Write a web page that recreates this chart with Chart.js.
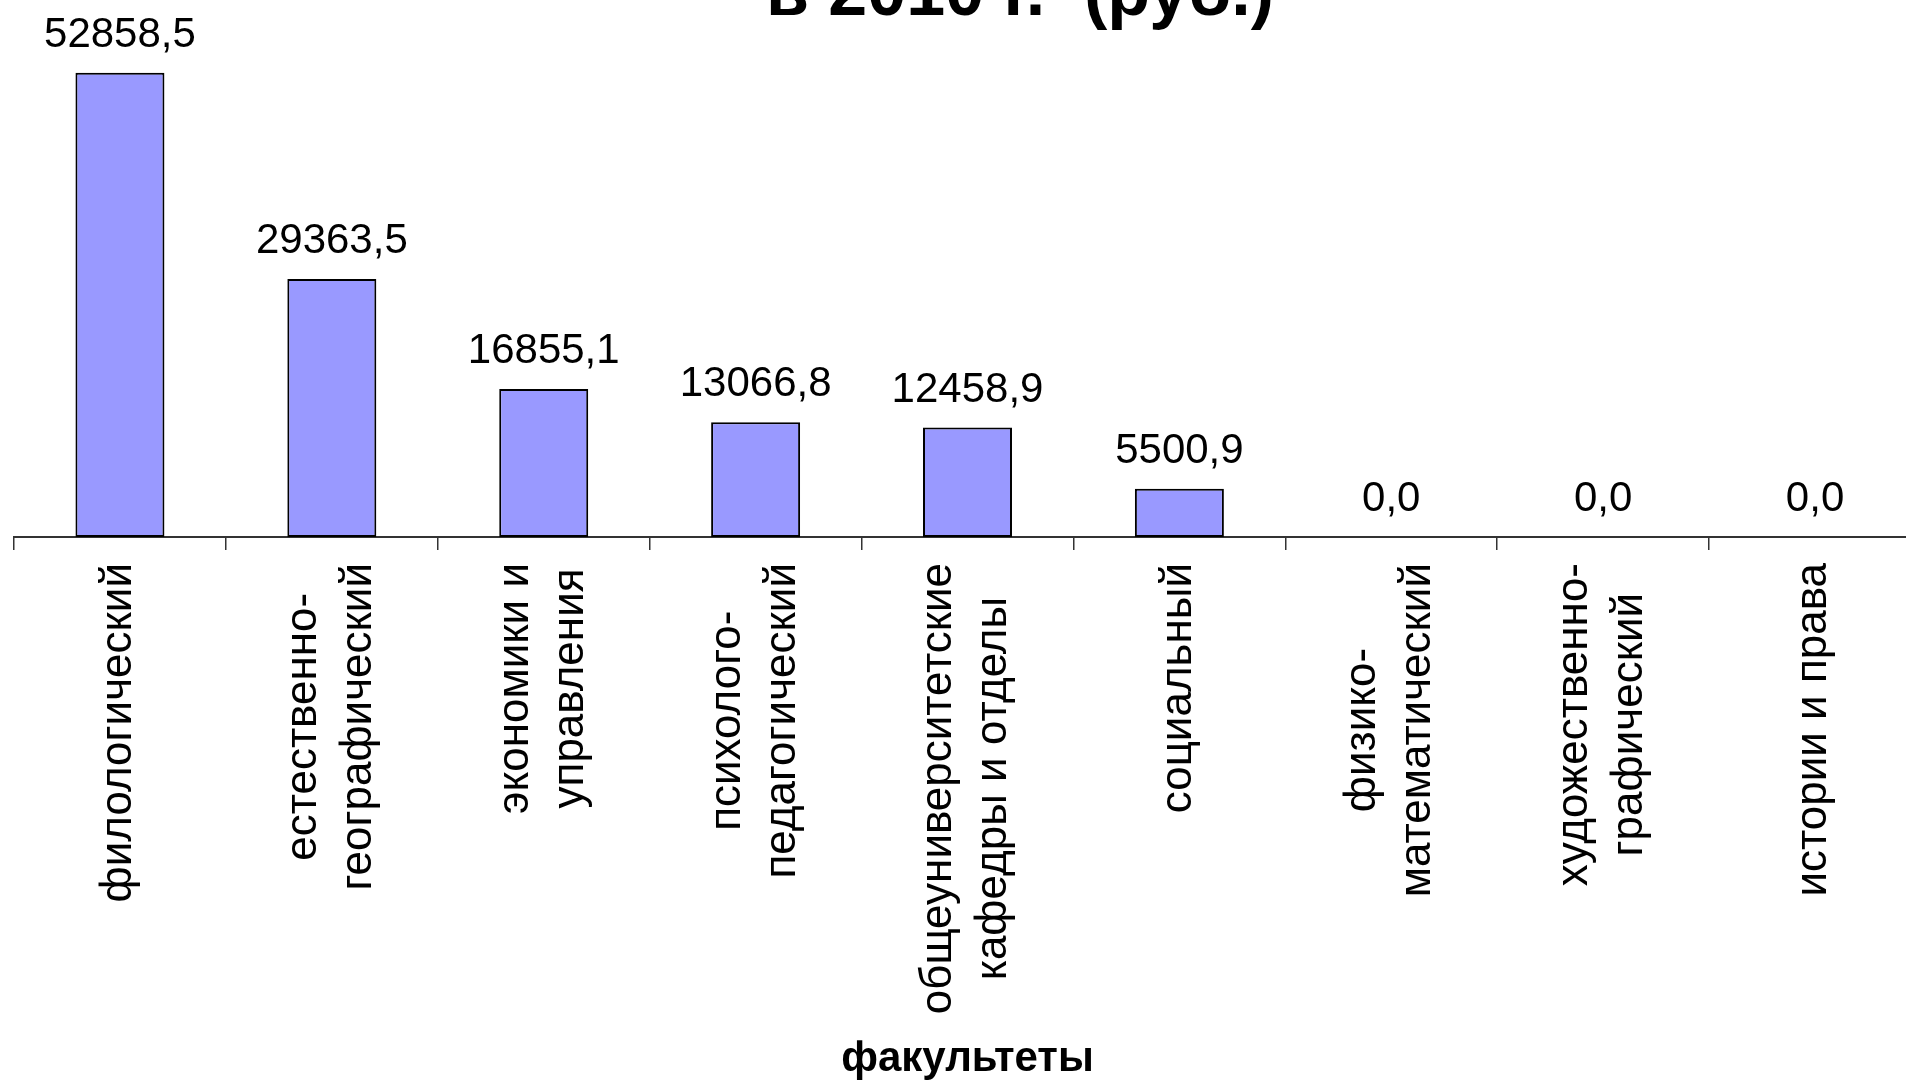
<!DOCTYPE html>
<html lang="ru">
<head>
<meta charset="utf-8">
<title>Факультеты</title>
<script src="https://cdn.jsdelivr.net/npm/chart.js@4.4.1/dist/chart.umd.min.js"></script>
<style>
  html, body { margin: 0; padding: 0; overflow: hidden; background: #fff; }
  #myChart { display: block; }
</style>
</head>
<body>
<canvas id="myChart" width="1930" height="1080"></canvas>
<script>
// Факультеты (подписи по строкам)
const labels = [
    ['филологический'],
    ['естественно-', 'географический'],
    ['экономики и', 'управления'],
    ['психолого-', 'педагогический'],
    ['общеуниверситетские', 'кафедры и отделы'],
    ['социальный'],
    ['физико-', 'математический'],
    ['художественно-', 'графический'],
    ['истории и права']
];

// Суммы, руб.
const dataValues = [52858.5, 29363.5, 16855.1, 13066.8, 12458.9, 5500.9, 0.0, 0.0, 0.0];

// Пределы оси значений (сама ось скрыта)
const yLimits = [0, 60000];

const chartTitle = 'в 2010 г.  (руб.)';
const axisTitle = 'факультеты';

const fontFamily = '"Liberation Sans", Arial, sans-serif';

// 52858.5 -> "52858,5"
function formatValue(v) {
    return v.toFixed(1).replace('.', ',');
}

// Подписи значений над столбцами
const valueLabels = {
    id: 'valueLabels',
    afterDatasetsDraw(chart) {
        const ctx = chart.ctx;
        const meta = chart.getDatasetMeta(0);
        ctx.save();
        ctx.font = '42px ' + fontFamily;
        ctx.fillStyle = '#000';
        ctx.textAlign = 'center';
        ctx.textBaseline = 'alphabetic';
        meta.data.forEach((bar, i) => {
            ctx.fillText(formatValue(dataValues[i]), bar.x, bar.y - 26);
        });
        ctx.restore();
    }
};

// Повёрнутые подписи категорий: строки центрируются внутри блока
const categoryLabels = {
    id: 'categoryLabels',
    afterDraw(chart) {
        const ctx = chart.ctx;
        const xScale = chart.scales.x;
        const fontSize = 44;
        const lineStep = 55;
        const top = chart.chartArea.bottom + 26;
        ctx.save();
        ctx.font = fontSize + 'px ' + fontFamily;
        ctx.fillStyle = '#000';
        ctx.textAlign = 'center';
        ctx.textBaseline = 'alphabetic';
        labels.forEach((lines, i) => {
            const x = xScale.getPixelForTick(i);
            const w = Math.max(...lines.map(l => ctx.measureText(l).width));
            lines.forEach((line, j) => {
                ctx.save();
                ctx.translate(x + (j - (lines.length - 1) / 2) * lineStep, top + w / 2);
                ctx.rotate(-Math.PI / 2);
                ctx.fillText(line, 0, fontSize * 0.26);
                ctx.restore();
            });
        });

        // Заголовок — видна только нижняя часть последней строки
        ctx.font = 'bold 70px ' + fontFamily;
        ctx.fillText(chartTitle, 1020, 15);
        ctx.restore();
    }
};

const ctx = document.getElementById('myChart').getContext('2d');

window.myChart = new Chart(ctx, {
    type: 'bar',
    data: {
        labels: labels,
        datasets: [{
            data: dataValues,
            backgroundColor: '#9999ff',
            borderColor: '#000000',
            borderWidth: c => (c.raw > 0 ? 2 : 0),
            borderSkipped: false,
            categoryPercentage: 1,
            barPercentage: 0.42
        }]
    },
    options: {
        responsive: false,
        animation: false,
        layout: {
            padding: { left: 14, right: 9, top: 10, bottom: 0 }
        },
        plugins: {
            legend: { display: false },
            tooltip: { enabled: false }
        },
        scales: {
            x: {
                offset: true,
                grid: {
                    offset: true,
                    drawOnChartArea: false,
                    drawTicks: true,
                    tickLength: 13,
                    color: '#333333',
                    lineWidth: 1.5
                },
                border: { display: true, color: '#333333', width: 2 },
                ticks: { display: false },
                title: {
                    display: true,
                    text: axisTitle,
                    color: '#000',
                    font: { family: fontFamily, size: 42, weight: 'bold', lineHeight: 1 },
                    padding: { top: 488, bottom: 0 }
                }
            },
            y: {
                display: false,
                min: yLimits[0],
                max: yLimits[1]
            }
        }
    },
    plugins: [valueLabels, categoryLabels]
});
</script>
</body>
</html>
